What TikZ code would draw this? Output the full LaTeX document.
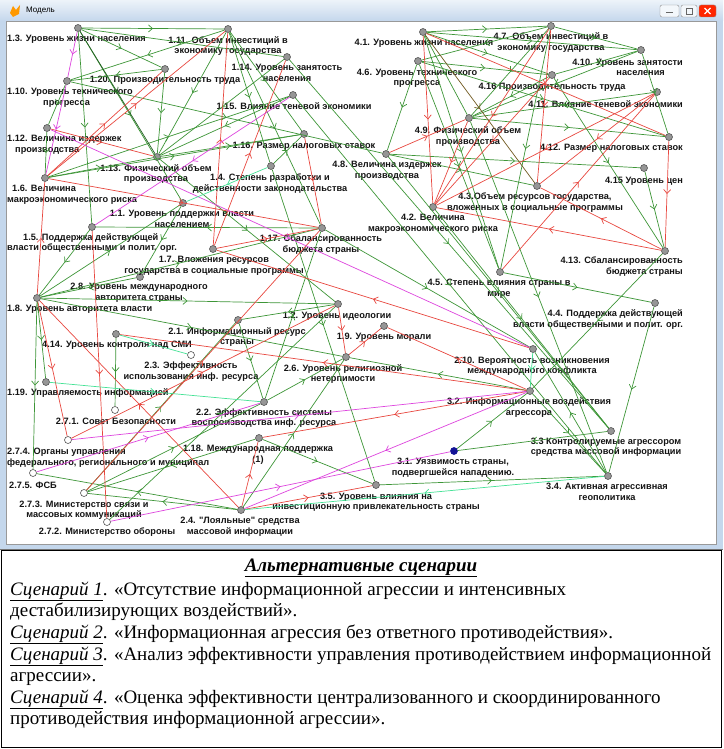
\documentclass[tikz,border=0pt]{standalone}
\usepackage{fontspec}
\setmainfont{Liberation Serif}
\newfontfamily\lblfam{Liberation Sans}
\usepackage{tikz}
\usetikzlibrary{positioning,arrows.meta,decorations.markings}

\definecolor{grn}{RGB}{62,150,56}
\definecolor{dgrn}{RGB}{36,96,36}
\definecolor{olv}{RGB}{112,88,30}
\definecolor{rd}{RGB}{232,72,64}
\definecolor{mgn}{RGB}{222,70,222}
\definecolor{aqu}{RGB}{70,226,150}
\definecolor{winframe}{RGB}{196,215,236}
\definecolor{vtx}{RGB}{150,150,150}
\definecolor{vtxb}{RGB}{85,85,85}
\definecolor{vblue}{RGB}{20,20,150}

\tikzset{
	vert/.style={circle,draw=vtxb,fill=vtx,line width=0.6pt,inner sep=0pt,minimum size=7pt},
	hollow/.style={vert,fill=white},
	lbl/.style={font=\lblfam\bfseries\fontsize{9.2}{10.5}\selectfont,text=black!92,inner sep=0pt,align=center},
	midarr/.style={postaction={decorate},decoration={markings,mark=at position 0.5 with {\arrow{Straight Barb[length=4pt,width=7pt]}}}},
	link/.style={line width=0.7pt,midarr},
	scen/.style={font=\fontsize{19}{21.7}\selectfont,anchor=base west,inner sep=0pt}
}

\begin{document}
\begin{tikzpicture}[x=1pt,y=-1pt]
	\useasboundingbox (0,0) rectangle (723,749);
	% window
	\fill[winframe] (0,0) rectangle (723,549);
	\shade[top color=white!70!winframe,bottom color=winframe] (0,0) rectangle (723,21);
	\fill[white] (6,21) rectangle (716,544);
	\draw[black!40] (6,21) rectangle (716,544);
	\draw[black!55] (0,549) -- (723,549);
	\fill[orange!80!yellow] (10,13) -- (13,6) -- (16,10) -- (20,5) -- (19,14) -- (13,17) -- cycle;
	\node[anchor=west,inner sep=0pt,font=\lblfam\fontsize{8}{9}\selectfont] (wtitle) at (26,11) {Модель};
	\draw[black!45,fill=white!80!winframe,rounded corners=2pt] (660,5) rectangle (679,17);
	\draw[black!60,line width=1.2pt] (666,12.5) -- (673,12.5);
	\draw[black!45,fill=white!80!winframe,rounded corners=2pt] (681,5) rectangle (697,17);
	\draw[black!60] (686,8) rectangle (692,14);
	\draw[black!45,fill=red!70!orange,rounded corners=2pt] (699,5) rectangle (716,17);
	\draw[white,line width=1.2pt] (704.5,8) -- (710.5,14) (704.5,14) -- (710.5,8);

	% vertices
	\node[vert] (a1) at (183,203) {};
	\node[vert] (a2) at (338,304) {};
	\node[vert] (a3) at (78,28) {};
	\node[vert] (a4) at (271,166) {};
	\node[vert] (a5) at (92,227) {};
	\node[vert] (a6) at (45,178) {};
	\node[vert] (a7) at (213,249) {};
	\node[vert] (a8) at (37,298) {};
	\node[vert] (a9) at (384,326) {};
	\node[vert] (a10) at (67,81) {};
	\node[vert] (a11) at (228,29) {};
	\node[vert] (a12) at (47,128) {};
	\node[vert] (a13) at (157,157) {};
	\node[vert] (a14) at (287,57) {};
	\node[vert] (a15) at (293,95) {};
	\node[vert] (a16) at (304,134) {};
	\node[vert] (a17) at (322,228) {};
	\node[vert] (a18) at (259,438) {};
	\node[vert] (a19) at (46,382) {};
	\node[vert] (a20) at (165,69) {};
	\node[vert] (b1) at (238,320) {};
	\node[vert] (b2) at (264,402) {};
	\node[hollow] (b3) at (191,355) {};
	\node[vert] (b4) at (241,510) {};
	\node[vert] (b6) at (346,357) {};
	\node[vert] (b8) at (140,277) {};
	\node[vert] (b10) at (533,349) {};
	\node[hollow] (b71) at (115,410) {};
	\node[hollow] (b72) at (107,522) {};
	\node[hollow] (b73) at (84,493) {};
	\node[hollow] (b74) at (68,440) {};
	\node[hollow] (b75) at (33,473) {};
	\node[vert,fill=vblue,draw=vblue] (c1) at (454,451) {};
	\node[vert] (c2) at (530,391) {};
	\node[vert] (c3) at (611,431) {};
	\node[vert] (c4) at (608,476) {};
	\node[vert] (c5) at (376,485) {};
	\node[vert] (d1) at (423,32) {};
	\node[vert] (d2) at (433,207) {};
	\node[vert] (d3) at (537,186) {};
	\node[vert] (d4) at (655,303) {};
	\node[vert] (d5) at (500,272) {};
	\node[vert] (d6) at (418,61) {};
	\node[vert] (d7) at (551,26) {};
	\node[vert] (d8) at (386,154) {};
	\node[vert] (d9) at (469,118) {};
	\node[vert] (d10) at (641,50) {};
	\node[vert] (d11) at (657,92) {};
	\node[vert] (d12) at (669,137) {};
	\node[vert] (d13) at (665,251) {};
	\node[vert] (d14) at (116,334) {};
	\node[vert] (d15) at (644,168) {};
	\node[vert] (d16) at (552,75) {};

	% labels
	\begin{scope}[every node/.style=lbl]
		\node[anchor=west,align=left] (ta3) at (7,39) {1.3. Уровень жизни населения};
		\node (ta11) at (228,46) {1.11. Объем инвестиций в\\экономику государства};
		\node (ta14) at (287,73) {1.14. Уровень занятость\\населения};
		\node (ta20) at (165,80) {1.20. Производительность труда};
		\node[anchor=west,align=left] (ta10) at (7,97.5) {1.10. Уровень технического\\\hspace*{36pt}прогресса};
		\node (ta15) at (294,106) {1.15. Влияние теневой экономики};
		\node[anchor=west,align=left] (ta12) at (7,144.5) {1.12. Величина издержек\\\hspace*{8pt}производства};
		\node (ta16) at (304,146) {1.16. Размер налоговых ставок};
		\node (ta13) at (156,174) {1.13. Физический объем\\производства};
		\node (ta4) at (270,183.5) {1.4. Степень разработки и\\действенности законодательства};
		\node[anchor=west,align=left] (ta6) at (7,194.5) {\hspace*{5pt}1.6. Величина\\макроэкономического риска};
		\node (ta1) at (182,219) {1.1. Уровень поддержки власти\\населением};
		\node[anchor=west,align=left] (ta5) at (7,243) {\hspace*{16pt}1.5. Поддержка действующей\\власти общественными и полит. орг.};
		\node (ta17) at (321,244.5) {1.17. Сбалансированность\\бюджета страны};
		\node (ta7) at (214,266) {1.7. Вложения ресурсов\\государства в социальные программы};
		\node (tb8) at (139,292.5) {2.8. Уровень международного\\авторитета страны};
		\node[anchor=west] (ta8) at (7,309) {1.8. Уровень авторитета власти};
		\node (ta2) at (337,316) {1.2. Уровень идеологии};
		\node (tb1) at (237,337) {2.1. Информационный ресурс\\страны};
		\node (td14) at (117,345) {4.14. Уровень контроля над СМИ};
		\node (ta9) at (384,337) {1.9. Уровень морали};
		\node (tb6) at (343,374) {2.6. Уровень религиозной\\нетерпимости};
		\node (tb3) at (191,371.5) {2.3. Эффективность\\использования инф. ресурса};
		\node[anchor=west] (ta19) at (7,393) {1.19. Управляемость информацией};
		\node (tb2) at (264,418) {2.2. Эффективность системы\\воспроизводства инф. ресурса};
		\node (tb71) at (116,421) {2.7.1. Совет Безопасности};
		\node (ta18) at (258,454.5) {1.18. Международная поддержка\\(1)};
		\node[anchor=west,align=left] (tb74) at (7,457.5) {2.7.4. Органы управления\\федерального, регионального и муниципал};
		\node (tb75) at (33,485) {2.7.5. ФСБ};
		\node (tb73) at (84,510) {2.7.3. Министерство связи и\\массовых коммуникаций};
		\node (tb72) at (107,532) {2.7.2. Министерство обороны};
		\node (tb4) at (240,526.5) {2.4. "Лояльные" средства\\массовой информации};
		\node (tc5) at (376,502) {3.5. Уровень влияния на\\инвестиционную привлекательность страны};
		\node (tc1) at (453,467.5) {3.1. Уязвимость страны,\\подвергшейся нападению.};
		\node (tc2) at (529,407.5) {3.2. Информационные воздействия\\агрессора};
		\node (tc3) at (606,447) {3.3 Контролируемые агрессором\\средства массовой информации};
		\node (tc4) at (607,492) {3.4. Активная агрессивная\\геополитика};
		\node (tb10) at (532,366) {2.10. Вероятность возникновения\\международного конфликта};
		\node (td1) at (424,43) {4.1. Уровень жизни населения};
		\node (td7) at (551,42.5) {4.7. Объем инвестиций в\\экономику государства};
		\node[anchor=east,align=right] (td10) at (683,67.5) {4.10. Уровень занятости\\населения\hspace*{18pt}};
		\node (td6) at (417,78) {4.6. Уровень технического\\прогресса};
		\node (td16) at (552,87) {4.16 Производительность труда};
		\node[anchor=east] (td11) at (683,104) {4.11. Влияние теневой экономики};
		\node (td9) at (468,136.5) {4.9. Физический объем\\производства};
		\node[anchor=east] (td12) at (683,148) {4.12. Размер налоговых ставок};
		\node (td8) at (387,170.5) {4.8. Величина издержек\\производства};
		\node (td15) at (644,181) {4.15 Уровень цен};
		\node (td3) at (535,202.5) {4.3.Объем ресурсов государства,\\вложенных в социальные программы};
		\node (td2) at (433,223.5) {4.2. Величина\\макроэкономического риска};
		\node[anchor=east,align=right] (td13) at (683,266.5) {4.13. Сбалансированность\\бюджета страны};
		\node (td5) at (499,288.5) {4.5. Степень влияния страны в\\мире};
		\node[anchor=east,align=right] (td4) at (683,319.5) {4.4. Поддержка действующей\\власти общественными и полит. орг.};
	\end{scope}

	% connections
	\foreach \s/\t in {a3/a14,a3/a20,a3/a5,a3/a1,a3/a11,a11/a10,a11/a13,a11/a16,a11/a17,a11/a4,
		a20/a10,a20/a13,a10/a12,a12/a6,a10/d8,a15/a13,a13/a16,a14/a13,a6/a13,a6/a15,a6/a16,
		a4/a16,a14/c3,a4/c5,a15/c4,a5/a8,a17/a5,a8/a1,a8/a17,a8/a2,a8/b6,a8/a19,a8/b75,a1/b8,b8/a8,
		a13/a2,a2/b1,b1/b2,b2/b6,b2/a17,b73/b2,a18/b73,b4/b75,b4/b73,a18/c5,c5/c4,d4/c4,c2/c4,
		c4/b10,c3/c1,c1/c2,c2/b6,d14/b71,b73/b1,b72/a2,b4/b6,a17/b10,
		d1/d7,d1/d10,d1/d16,d1/d9,d1/d5,d7/d9,d7/d6,d7/d10,d7/d5,d10/d16,d10/d12,d10/d9,
		d6/d8,d6/d16,d6/d12,d6/d5,d11/d9,d9/d12,d8/d15,d8/d3,d16/d9,d16/d13,d15/d13,d5/d4,
		d2/c3,d9/c4,d13/c2,d8/c3}
		\draw[link,grn] (\s) -- (\t);
	\draw[link,dgrn] (a3) -- (a13);
	\draw[link,olv] (d1) -- (d3);
	\foreach \s/\t in {a6/a11,a6/a20,a6/a17,a12/a13,a8/a6,a7/a11,a7/a17,a7/a14,a16/a17,a5/b72,
		a8/b74,a2/b6,b6/a9,c2/d14,c2/a9,c2/a18,b4/a18,b4/c5,b73/a17,b10/a7,b74/a2,b4/a8,
		d1/d2,d1/d12,d7/d3,d7/d2,d16/d2,d11/d2,d11/d3,d8/d9,d12/d13,d13/d2,d13/d3,d5/d11,d9/d2}
		\draw[link,rd] (\s) -- (\t);
	\foreach \s/\t in {a3/a10,a10/a6,a15/a5,a12/b10,c2/b4,b72/c1,b74/c2,b75/b2}
		\draw[link,mgn] (\s) -- (\t);
	\foreach \s/\t in {a4/a1,a19/b2,d14/b3,b10/c2,c4/b4}
		\draw[link,aqu] (\s) -- (\t);

	% scenarios
	\draw[black,line width=1pt] (1.5,550.5) rectangle (721.5,747.5);
	\node[scen,anchor=base] (shead) at (361,571) {\bfseries\itshape\underline{Альтернативные сценарии}};
	\node[scen] (s1) at (10,595) {\underline{\itshape Сценарий 1}. «Отсутствие информационной агрессии и интенсивных};
	\node[scen] (s1b) at (10,616.5) {дестабилизирующих воздействий».};
	\node[scen] (s2) at (10,638) {\underline{\itshape Сценарий 2}. «Информационная агрессия без ответного противодействия».};
	\node[scen] (s3) at (10,660) {\underline{\itshape Сценарий 3}. «Анализ эффективности управления противодействием информационной};
	\node[scen] (s3b) at (10,681.5) {агрессии».};
	\node[scen] (s4) at (10,703) {\underline{\itshape Сценарий 4}. «Оценка эффективности централизованного и скоординированного};
	\node[scen] (s4b) at (10,724.5) {противодействия информационной агрессии».};
\end{tikzpicture}
\end{document}
